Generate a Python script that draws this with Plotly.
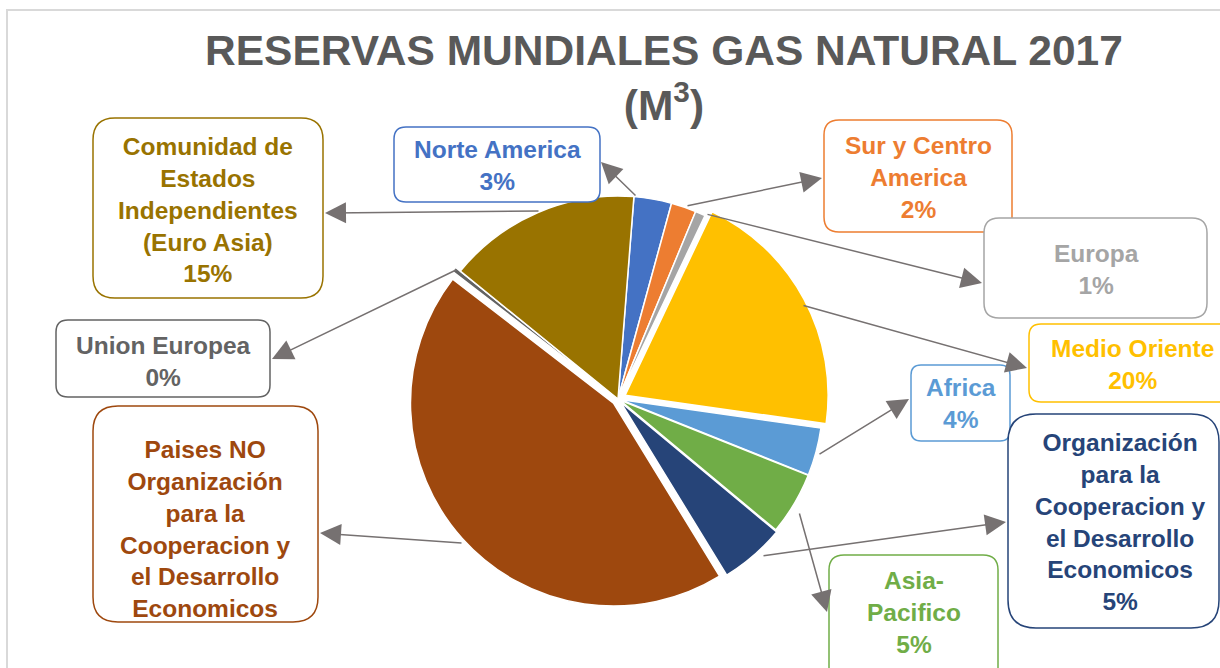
import plotly.graph_objects as go

# data (share of world reserves, %)
regions = ["Norte America", "Sur y Centro America", "Europa", "Medio Oriente", "Africa",
           "Asia-Pacifico", "Organización para la Cooperacion y el Desarrollo Economicos",
           "Paises NO Organización para la Cooperacion y el Desarrollo Economicos",
           "Union Europea", "Comunidad de Estados Independientes (Euro Asia)"]
shares = [3.0, 2.0, 0.8, 20.2, 3.8, 5.0, 5.2, 44.2, 0.4, 15.4]
colors = ["#4472C4", "#ED7D31", "#A5A5A5", "#FFC000", "#5B9BD5",
          "#70AD47", "#264478", "#9E480E", "#636363", "#997300"]
pulls = [0, 0, 0, 0.04, 0.01, 0.01, 0.02, 0.03, 0.03, 0]

# callout text as it is wrapped in the picture
box_lines = [
    ["Norte America"],
    ["Sur y Centro", "America"],
    ["Europa"],
    ["Medio Oriente"],
    ["Africa"],
    ["Asia-", "Pacifico"],
    ["Organización", "para la", "Cooperacion y", "el Desarrollo", "Economicos"],
    ["Paises NO", "Organización", "para la", "Cooperacion y", "el Desarrollo", "Economicos"],
    ["Union Europea"],
    ["Comunidad de", "Estados", "Independientes", "(Euro Asia)"],
]
show_pct = [True, True, True, True, True, True, True, False, True, True]

# callout layout (pixel coords): box x0, y0, x1, y1, corner radius
boxes = [
    (394, 127, 600, 202, 12),
    (824, 120, 1012, 232, 15),
    (984, 218, 1207, 318, 15),
    (1029, 324, 1235, 402, 12),
    (911, 365, 1010, 441, 10),
    (829, 555, 998, 690, 15),
    (1008, 414, 1219, 628, 28),
    (93, 406, 318, 622, 25),
    (56, 320, 270, 397, 12),
    (93, 118, 323, 298, 22),
]
text_pos = [(497, 165.5), (918, 177), (1096, 269.5), (1132, 364.5), (961, 403.5),
            (914, 612.5), (1120, 521.5), (205, 529), (163, 361.5), (208, 209.5)]
# leader lines: tail on the slice -> head at the box
leaders = [
    ((637, 197), (601, 162)),
    ((686, 206), (822, 178)),
    ((706, 214), (982, 283)),
    ((802, 305), (1027, 368)),
    ((818, 455), (909, 399)),
    ((799, 512), (827, 612)),
    ((762, 556), (1006, 522)),
    ((463, 543), (320, 533)),
    ((458, 269), (272, 359)),
    ((540, 211), (325, 213)),
]

W, H = 1220, 668
cx, cy, r = 618, 399, 203
half = r * (1 + max(pulls))


def rounded_rect(x0, y0, x1, y1, rr):
    return (f"M{x0+rr},{y0} L{x1-rr},{y0} Q{x1},{y0} {x1},{y0+rr} "
            f"L{x1},{y1-rr} Q{x1},{y1} {x1-rr},{y1} L{x0+rr},{y1} "
            f"Q{x0},{y1} {x0},{y1-rr} L{x0},{y0+rr} Q{x0},{y0} {x0+rr},{y0} Z")


fig = go.Figure()
fig.add_trace(go.Pie(
    labels=regions, values=shares, sort=False, direction="clockwise", rotation=4.5,
    pull=pulls, textinfo="none", hoverinfo="label+percent",
    marker=dict(colors=colors, line=dict(color="white", width=1.5)),
    domain=dict(x=[(cx - half) / W, (cx + half) / W],
                y=[1 - (cy + half) / H, 1 - (cy - half) / H]),
    showlegend=False,
))

shapes = [
    dict(type="line", xref="x", yref="y", x0=6, y0=10, x1=W, y1=10,
         line=dict(color="#D9D9D9", width=2)),
    dict(type="line", xref="x", yref="y", x0=7, y0=10, x1=7, y1=H,
         line=dict(color="#D9D9D9", width=2)),
]
annotations = []
total = sum(shares)
for i, name in enumerate(regions):
    x0, y0, x1, y1, rr = boxes[i]
    shapes.append(dict(type="path", xref="x", yref="y", path=rounded_rect(x0, y0, x1, y1, rr),
                       fillcolor="white", line=dict(color=colors[i], width=1.5), layer="above"))
    lines = list(box_lines[i])
    if show_pct[i]:
        lines.append(f"{round(shares[i] / total * 100)}%")
    tx, ty = text_pos[i]
    annotations.append(dict(
        x=tx, y=ty, xref="x", yref="y", text="<br>".join(lines), showarrow=False,
        xanchor="center", yanchor="middle", align="center",
        font=dict(family="Arial, Liberation Sans", size=24.5, color=colors[i], weight="bold"),
    ))
    (ax, ay), (hx, hy) = leaders[i]
    annotations.append(dict(
        x=hx, y=hy, ax=ax, ay=ay, xref="x", yref="y", axref="x", ayref="y",
        text="", showarrow=True, arrowhead=2, arrowsize=2.8, arrowwidth=1.5,
        arrowcolor="#767171", standoff=0,
    ))

annotations.append(dict(
    x=664, y=78, xref="x", yref="y", showarrow=False, xanchor="center", yanchor="middle",
    text="RESERVAS MUNDIALES GAS NATURAL 2017<br>(M<sup>3</sup>)",
    font=dict(family="Arial, Liberation Sans", size=42.5, color="#595959", weight="bold"),
))

fig.update_layout(
    width=W, height=H,
    margin=dict(l=0, r=0, t=0, b=0),
    paper_bgcolor="white", plot_bgcolor="white",
    xaxis=dict(range=[0, W], visible=False, fixedrange=True),
    yaxis=dict(range=[H, 0], visible=False, fixedrange=True),
    shapes=shapes,
    annotations=annotations,
)

# drop the page's default body margin so the figure sits at the window's corner
fig.write_html("out.html", config={"displayModeBar": False},
               post_script="document.body.style.margin='0';")
